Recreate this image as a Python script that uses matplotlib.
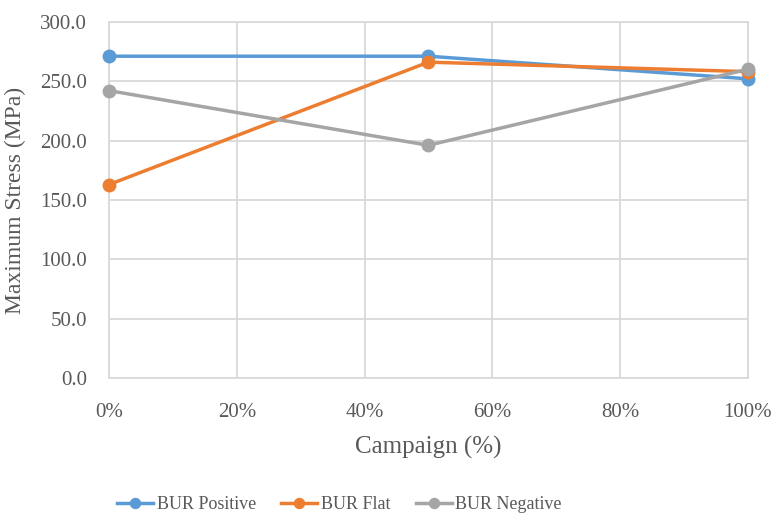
import matplotlib.pyplot as plt
from matplotlib.ticker import FuncFormatter

plt.rcParams['font.family'] = ['Liberation Serif', 'DejaVu Serif']

campaign = [0, 50, 100]
bur_positive = [271, 271, 252]
bur_flat = [163, 266, 258]
bur_negative = [242, 196, 260]

fig = plt.figure(figsize=(7.74, 5.18), dpi=100)
ax = fig.add_axes([0.141, 0.270, 0.825, 0.688])

series = [
    ("BUR Positive", bur_positive, "#5B9BD5"),
    ("BUR Flat", bur_flat, "#ED7D31"),
    ("BUR Negative", bur_negative, "#A5A5A5"),
]
for name, vals, col in series:
    ax.plot(campaign, vals, color=col, lw=2.5, marker="o", ms=9,
            label=name, clip_on=False, zorder=3)

ax.set_xlim(0, 100)
ax.set_ylim(0, 300)
ax.set_xticks(range(0, 101, 20))
ax.set_yticks(range(0, 301, 50))
ax.xaxis.set_major_formatter(FuncFormatter(lambda v, p: f"{v:.0f}%"))
ax.yaxis.set_major_formatter(FuncFormatter(lambda v, p: f"{v:.1f}"))
ax.grid(True, color="#D9D9D9", lw=1.3)
ax.set_axisbelow(True)
for s in ax.spines.values():
    s.set_color("#D9D9D9")
    s.set_linewidth(1.3)
ax.tick_params(length=0, labelsize=15, colors="#595959")
ax.tick_params(axis="x", pad=18)
ax.tick_params(axis="y", pad=16)

ax.set_xlabel("Campaign (%)", fontsize=18, color="#595959", labelpad=10)
ax.set_ylabel("Maximum Stress (MPa)", fontsize=17, color="#595959", labelpad=10)

# legend sits under the left part of the plot
fig.legend(loc="lower left", ncol=3, frameon=False, fontsize=13,
           bbox_to_anchor=(0.13, -0.022), handlelength=2.0,
           handletextpad=0.2, columnspacing=1.4, markerscale=0.8,
           labelcolor="#595959")

fig.savefig("out.png", dpi=100)
